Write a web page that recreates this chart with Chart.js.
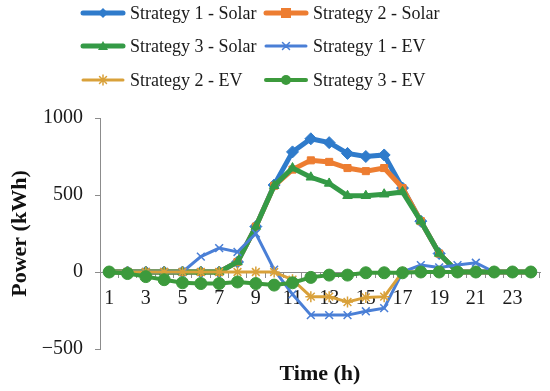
<!DOCTYPE html>
<html>
<head>
<meta charset="utf-8">
<script src="https://cdn.jsdelivr.net/npm/chart.js@4.4.1/dist/chart.umd.min.js"></script>
<style>
  html, body { margin: 0; padding: 0; background: #fff; }
  #wrap { position: relative; width: 550px; height: 391px; }
  #legend { position: absolute; left: 0; top: 0; width: 550px; height: 100px; font: 18px "Liberation Serif", serif; color: #1a1a1a; }
  .item { position: absolute; height: 20px; }
  .item canvas { position: absolute; left: 0; top: 0; }
  .item span { position: absolute; top: 0; line-height: 20px; white-space: nowrap; }
</style>
</head>
<body>
<div id="wrap">
  <canvas id="chart" width="550" height="391"></canvas>
  <div id="legend"></div>
</div>
<script>
// hours along the x axis
const hours = ['1','2','3','4','5','6','7','8','9','10','11','12','13','14','15','16','17','18','19','20','21','22','23','24'];

// power in kWh
const solar1 = [0,0,0,0,0,0,0,65,295,565,780,865,840,770,750,760,545,330,120,0,0,0,0,0];
const solar2 = [0,0,0,0,0,0,0,65,295,560,665,725,715,675,655,675,545,330,120,0,0,0,0,0];
const solar3 = [0,0,0,0,0,0,0,65,295,560,675,615,575,495,495,505,520,330,120,0,0,0,0,0];
const ev1 = [0,0,0,0,0,100,155,130,250,15,-145,-280,-280,-280,-255,-235,0,45,30,45,60,0,0,0];
const ev2 = [0,0,0,0,0,0,0,0,0,0,-50,-160,-160,-195,-165,-160,0,0,0,0,0,0,0,0];
const ev3 = [0,-10,-30,-50,-70,-75,-75,-65,-75,-85,-70,-35,-20,-20,-5,-5,-5,0,0,0,0,0,0,0];

const yTicks = [-500, 0, 500, 1000];
const yTickLabels = ['\u2212500', '0', '500', '1000'];

const series = [
  { label: 'Strategy 1 - Solar', data: solar1, color: '#2f7bcb', width: 5, style: 'rectRot', r: 6 },
  { label: 'Strategy 2 - Solar', data: solar2, color: '#ed7d31', width: 5, style: 'rect', r: 5 },
  { label: 'Strategy 3 - Solar', data: solar3, color: '#349a46', width: 5, style: 'triangle', r: 5.5 },
  { label: 'Strategy 1 - EV', data: ev1, color: '#4a7fd6', width: 3, style: 'crossRot', r: 5.5 },
  { label: 'Strategy 2 - EV', data: ev2, color: '#d9a13a', width: 3, style: 'star', r: 5.5 },
  { label: 'Strategy 3 - EV', data: ev3, color: '#3c9a3c', width: 4, style: 'circle', r: 6 }
];

const datasets = series.map((s, i) => ({
  label: s.label,
  data: s.data,
  borderColor: s.color,
  backgroundColor: s.color,
  borderWidth: s.width,
  pointStyle: s.style,
  pointRadius: s.r,
  pointBorderColor: s.color,
  pointBackgroundColor: s.color,
  pointBorderWidth: s.style === 'crossRot' || s.style === 'star' ? 1.5 : 1,
  tension: 0,
  order: series.length - i // later series on top, like the original
}));

const tickFont = { family: 'Liberation Serif', size: 20 };
const titleFont = { family: 'Liberation Serif', size: 22, weight: 'bold' };
const axisGray = '#8c8c8c';

new Chart(document.getElementById('chart').getContext('2d'), {
  type: 'line',
  data: { labels: hours, datasets: datasets },
  options: {
    responsive: false,
    animation: false,
    layout: { padding: { top: 118, bottom: 42, right: 10, left: 0 } },
    plugins: { legend: { display: false }, tooltip: { enabled: false } },
    scales: {
      x: {
        position: { y: 0 },
        offset: true,
        grid: { offset: true, drawOnChartArea: false, color: axisGray, tickLength: 5 },
        border: { color: axisGray },
        ticks: {
          autoSkip: false, maxRotation: 0, color: '#1a1a1a', font: tickFont, padding: 10,
          callback: (v, i) => (i % 2 === 0 ? hours[i] : '')
        },
        title: { display: true, text: 'Time (h)', color: '#111', font: titleFont, padding: { top: 41, bottom: 0 } }
      },
      y: {
        min: -500, max: 1000,
        afterFit: (s) => { s.width = 100; },
        afterBuildTicks: (s) => { s.ticks = yTicks.map(v => ({ value: v })); },
        grid: { drawOnChartArea: false, color: axisGray, tickLength: 5 },
        border: { color: axisGray },
        ticks: {
          color: '#1a1a1a', font: tickFont, padding: 12,
          callback: (v) => yTickLabels[yTicks.indexOf(v)]
        },
        title: { display: true, text: 'Power (kWh)', color: '#111', font: titleFont, padding: { top: 7, bottom: 0 } }
      }
    }
  }
});

// legend in two columns, as in the original
function drawMarker(ctx, style, x, y, r, color) {
  ctx.fillStyle = color;
  ctx.strokeStyle = color;
  ctx.lineWidth = 1.5;
  ctx.beginPath();
  if (style === 'circle') {
    ctx.arc(x, y, r, 0, Math.PI * 2);
    ctx.fill();
  } else if (style === 'rect') {
    ctx.fillRect(x - r, y - r, r * 2, r * 2);
  } else if (style === 'rectRot') {
    ctx.moveTo(x, y - r); ctx.lineTo(x + r, y); ctx.lineTo(x, y + r); ctx.lineTo(x - r, y);
    ctx.closePath(); ctx.fill();
  } else if (style === 'triangle') {
    ctx.moveTo(x, y - r); ctx.lineTo(x + r, y + r * 0.8); ctx.lineTo(x - r, y + r * 0.8);
    ctx.closePath(); ctx.fill();
  } else if (style === 'crossRot' || style === 'star') {
    const d = r * 0.7;
    ctx.moveTo(x - d, y - d); ctx.lineTo(x + d, y + d);
    ctx.moveTo(x + d, y - d); ctx.lineTo(x - d, y + d);
    if (style === 'star') {
      ctx.moveTo(x, y - r); ctx.lineTo(x, y + r);
      ctx.moveTo(x - r, y); ctx.lineTo(x + r, y);
    }
    ctx.stroke();
  }
}

const legend = document.getElementById('legend');
const rowsY = [13, 46, 80];
series.forEach((s, i) => {
  const col = i % 2;
  const row = Math.floor(i / 2);
  const item = document.createElement('div');
  item.className = 'item';
  item.style.left = (col ? 263 : 80) + 'px';
  item.style.top = (rowsY[row] - 10) + 'px';
  const c = document.createElement('canvas');
  c.width = 46; c.height = 20;
  const ctx = c.getContext('2d');
  ctx.strokeStyle = s.color;
  ctx.lineWidth = s.width;
  ctx.lineCap = 'round';
  ctx.beginPath();
  ctx.moveTo(3, 10); ctx.lineTo(43, 10);
  ctx.stroke();
  drawMarker(ctx, s.style, 23, 10, Math.min(s.r, 5), s.color);
  const span = document.createElement('span');
  span.textContent = s.label;
  span.style.left = '50px';
  item.appendChild(c);
  item.appendChild(span);
  legend.appendChild(item);
});
</script>
</body>
</html>
